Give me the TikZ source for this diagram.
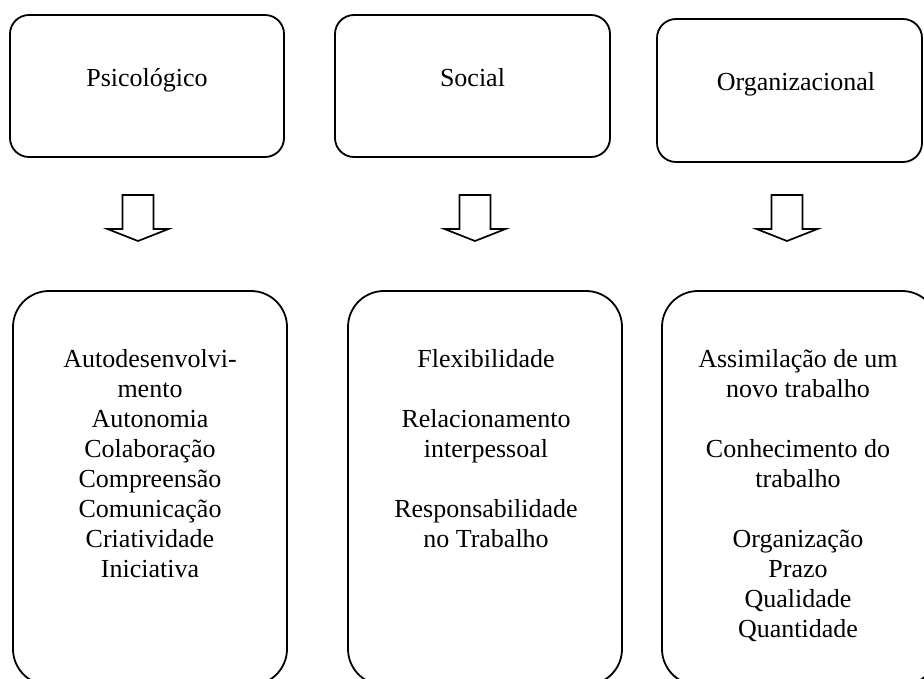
\documentclass[tikz,border=0pt]{standalone}
\usepackage{fontspec}
\setmainfont{Liberation Serif}
\tikzset{
  topbox/.style={draw, line width=1.8pt, rounded corners=19pt, minimum height=142pt},
  lowbox/.style={draw, line width=1.8pt, rounded corners=36pt, minimum height=394pt},
  txt/.style={font=\fontsize{26}{30}\selectfont, inner sep=0pt, align=center},
  arrowline/.style={draw, line width=1.7pt, line join=miter},
  blockarrow/.pic={
    \draw[arrowline] (-15.5,-46) -- (15.5,-46) -- (15.5,-12) -- (30.5,-12)
      -- (0,0) -- (-30.5,-12) -- (-15.5,-12) -- cycle;
  }
}
\begin{document}
\begin{tikzpicture}[x=1pt,y=-1pt]
\useasboundingbox (0,0) rectangle (924,678);
\clip (0,0) rectangle (924,678);

% upper row: the three dimensions
\node[topbox, minimum width=274pt] (t1) at (147,86) {};
\node[topbox, minimum width=275pt] (t2) at (472.5,86) {};
\node[topbox, minimum width=265pt, minimum height=143pt] (t3) at (789.5,90.5) {};
\node[txt, anchor=base] (l1) at (147,86) {Psicológico};
\node[txt, anchor=base] (l2) at (472.5,86) {Social};
\node[txt, anchor=base] (l3) at (796,90) {Organizacional};

% block arrows between the rows
\coordinate (a1) at (138,241);
\coordinate (a2) at (475,241);
\coordinate (a3) at (787,241);
\pic at (a1) {blockarrow};
\pic at (a2) {blockarrow};
\pic at (a3) {blockarrow};

% lower row: the competences of each dimension
\node[lowbox, minimum width=274pt] (b1) at (150,488) {};
\node[lowbox, minimum width=274pt] (b2) at (485,488) {};
\node[lowbox, minimum width=276pt] (b3) at (800,488) {};

\node[txt, anchor=north] (c1) at (150,349) {Autodesenvolvi-\\mento\\Autonomia\\Colaboração\\Compreensão\\Comunicação\\Criatividade\\Iniciativa};
\node[txt, anchor=north] (c2) at (486,349) {Flexibilidade\\[30pt]Relacionamento\\interpessoal\\[30pt]Responsabilidade\\no Trabalho};
\node[txt, anchor=north] (c3) at (798,349) {Assimilação de um\\novo trabalho\\[30pt]Conhecimento do\\trabalho\\[30pt]Organização\\Prazo\\Qualidade\\Quantidade};
\end{tikzpicture}
\end{document}
